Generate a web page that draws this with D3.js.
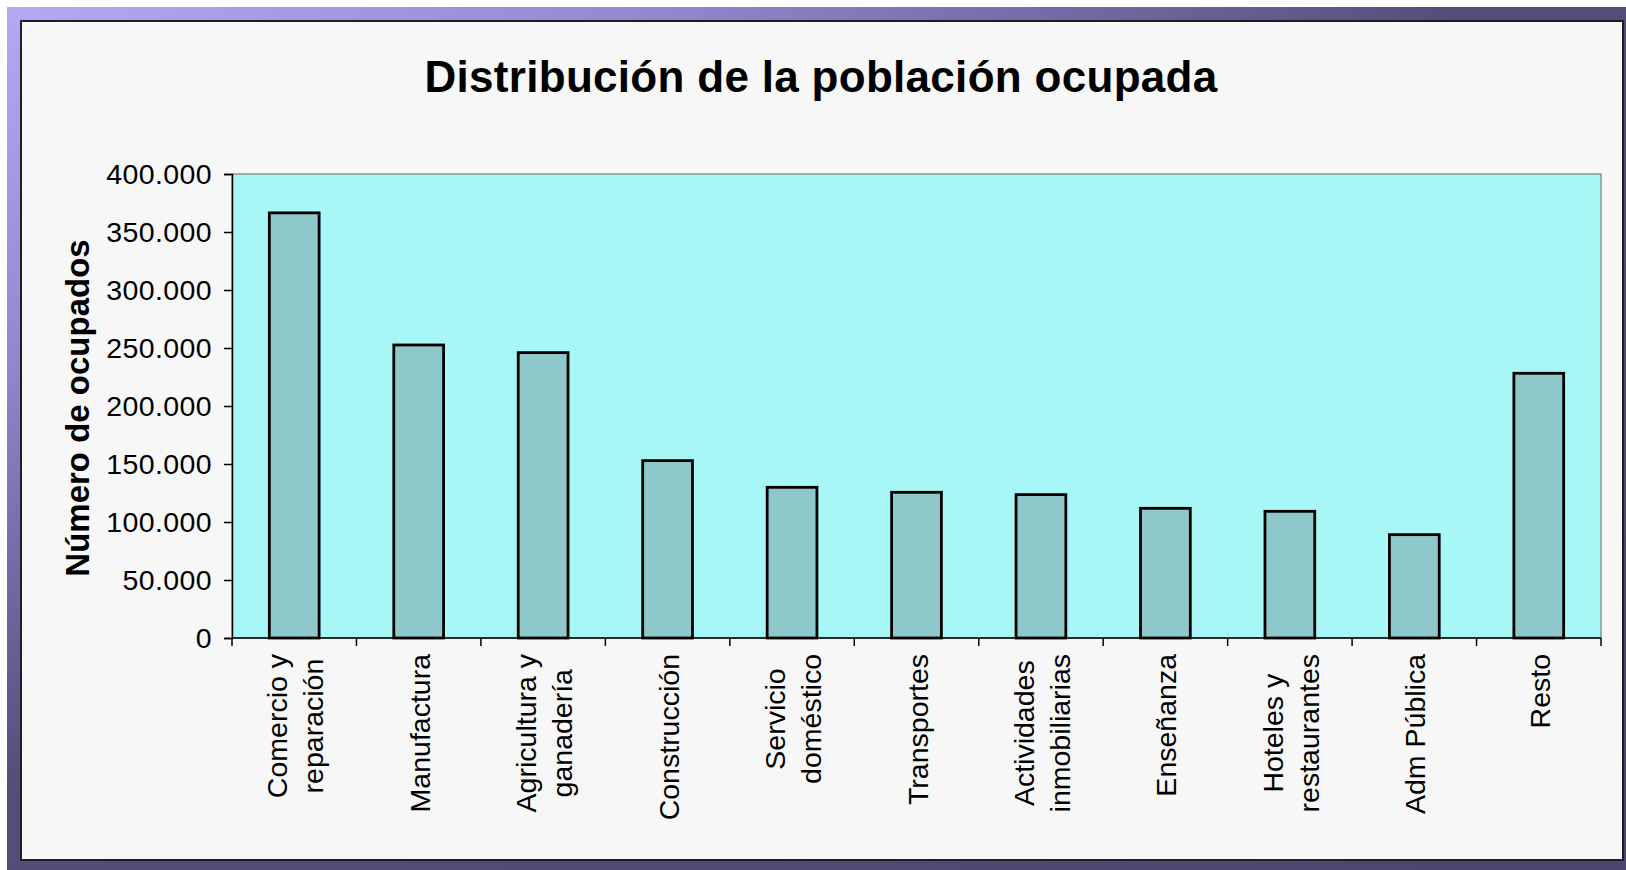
<!DOCTYPE html>
<html>
<head>
<meta charset="utf-8">
<script src="https://cdn.jsdelivr.net/npm/d3@7"></script>
<style>
  html, body { margin: 0; padding: 0; background: #ffffff; }
  svg { display: block; }
</style>
</head>
<body>
<div id="chart"></div>
<script>
// data
var categories = [
  ["Comercio y", "reparación"],
  ["Manufactura"],
  ["Agricultura y", "ganadería"],
  ["Construcción"],
  ["Servicio", "doméstico"],
  ["Transportes"],
  ["Actividades", "inmobiliarias"],
  ["Enseñanza"],
  ["Hoteles y", "restaurantes"],
  ["Adm Pública"],
  ["Resto"]
];
var ocupados = [366500, 252600, 246000, 152900, 129900, 125600, 123600, 111800, 109200, 89100, 228200];
var yTicks = [0, 50000, 100000, 150000, 200000, 250000, 300000, 350000, 400000];

var W = 1626, H = 870;
var plot = {left: 232, top: 174, right: 1601, bottom: 638};

const svg = d3.select('#chart')
    .append("svg")
    .attr("width", W)
    .attr("height", H);

// purple frame gradient
var defs = svg.append("defs");
var grad = defs.append("linearGradient")
    .attr("id", "frame")
    .attr("x1", 0).attr("y1", 0).attr("x2", 1).attr("y2", 1);
grad.append("stop").attr("offset", "0%").attr("stop-color", "#b5a9f7");
grad.append("stop").attr("offset", "20%").attr("stop-color", "#9488d0");
grad.append("stop").attr("offset", "45%").attr("stop-color", "#574d7b");
grad.append("stop").attr("offset", "100%").attr("stop-color", "#4e4470");

svg.append("rect")
    .attr("x", 7).attr("y", 7)
    .attr("width", W - 7).attr("height", H - 7)
    .attr("fill", "url(#frame)");

// inner panel
svg.append("rect")
    .attr("x", 21).attr("y", 21)
    .attr("width", 1602).attr("height", 839)
    .attr("fill", "#f7f7f7")
    .attr("stroke", "#1e1e22")
    .attr("stroke-width", 2);

// title
svg.append("text")
    .attr("x", 821)
    .attr("y", 92)
    .attr("text-anchor", "middle")
    .style("font-family", "'Liberation Sans', Arial, sans-serif")
    .style("font-weight", "bold")
    .style("font-size", "44px")
    .style("letter-spacing", "0.3px")
    .attr("fill", "#000")
    .text("Distribución de la población ocupada");

// scales
var x = d3.scaleBand()
    .domain(d3.range(categories.length))
    .range([plot.left, plot.right])
    .paddingInner(0.6)
    .paddingOuter(0.3);

var y = d3.scaleLinear()
    .domain([0, 400000])
    .range([plot.bottom, plot.top]);

// plot area
svg.append("rect")
    .attr("x", plot.left).attr("y", plot.top)
    .attr("width", plot.right - plot.left)
    .attr("height", plot.bottom - plot.top)
    .attr("fill", "#a7f7f6")
    .attr("stroke", "#666")
    .attr("stroke-width", 1);

// bars
svg.append("g")
    .selectAll("rect")
    .data(ocupados)
    .join("rect")
    .attr("x", (d, i) => x(i))
    .attr("y", d => y(d))
    .attr("width", x.bandwidth())
    .attr("height", d => y(0) - y(d))
    .attr("fill", "#8fc8cb")
    .attr("stroke", "#000")
    .attr("stroke-width", 2.8);

// y axis
var fmt = d3.formatLocale({decimal: ",", thousands: ".", grouping: [3], currency: ["", ""]}).format(",");

var yAxis = svg.append("g")
    .attr("transform", `translate(${plot.left}, 0)`)
    .call(d3.axisLeft(y).tickValues(yTicks).tickFormat(fmt).tickSize(8).tickPadding(12));
yAxis.select(".domain").attr("stroke", "#000").attr("stroke-width", 1.5);
yAxis.selectAll(".tick line").attr("stroke", "#000").attr("stroke-width", 1.5);
yAxis.selectAll(".tick text")
    .style("font-family", "'Liberation Sans', Arial, sans-serif")
    .style("font-size", "28.5px")
    .style("letter-spacing", "0.4px")
    .attr("fill", "#000");

// x axis: line + ticks at category boundaries
var step = x.step();
var boundaries = d3.range(categories.length + 1).map(i => plot.left + i * step);
svg.append("line")
    .attr("x1", plot.left).attr("x2", plot.right)
    .attr("y1", plot.bottom).attr("y2", plot.bottom)
    .attr("stroke", "#000").attr("stroke-width", 1.5);
svg.append("g")
    .selectAll("line")
    .data(boundaries)
    .join("line")
    .attr("x1", d => d).attr("x2", d => d)
    .attr("y1", plot.bottom).attr("y2", plot.bottom + 8)
    .attr("stroke", "#000").attr("stroke-width", 1.5);

// x labels, rotated, top aligned, lines centred on each other
var labelTop = 654, lineGap = 36;
categories.forEach(function(lines, i) {
  var cx = x(i) + x.bandwidth() / 2;
  var g = svg.append("g");
  var texts = lines.map(function(line, j) {
    var bx = cx + 11 + (j - (lines.length - 1) / 2) * lineGap;
    return g.append("text")
        .attr("text-anchor", "middle")
        .style("font-family", "'Liberation Sans', Arial, sans-serif")
        .style("font-size", "28.5px")
        .attr("fill", "#000")
        .attr("data-x", bx)
        .text(line);
  });
  var longest = d3.max(texts, t => t.node().getComputedTextLength());
  var cy = labelTop + longest / 2;
  texts.forEach(function(t) {
    t.attr("transform", `translate(${t.attr("data-x")}, ${cy}) rotate(-90)`);
  });
});

// y axis title
svg.append("text")
    .attr("transform", "translate(89, 408) rotate(-90)")
    .attr("text-anchor", "middle")
    .style("font-family", "'Liberation Sans', Arial, sans-serif")
    .style("font-weight", "bold")
    .style("font-size", "33px")
    .attr("fill", "#000")
    .text("Número de ocupados");
</script>
</body>
</html>
